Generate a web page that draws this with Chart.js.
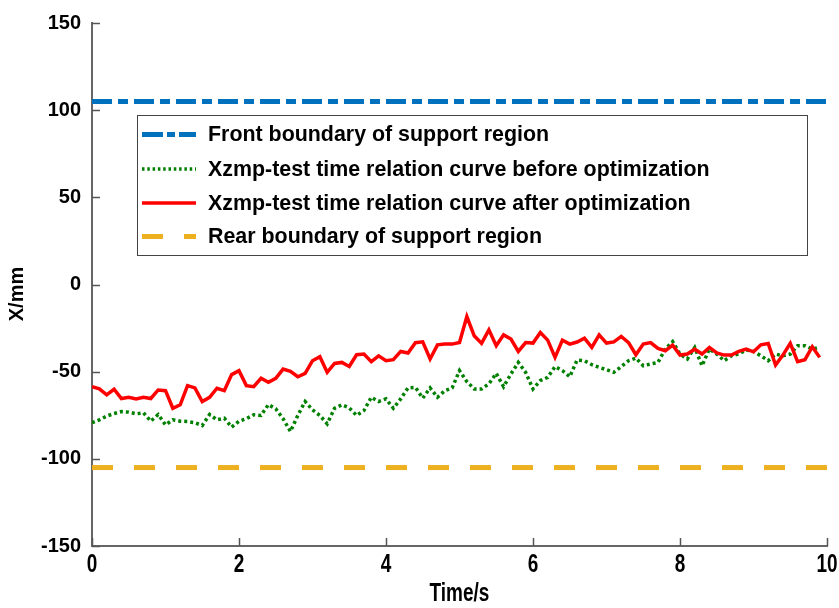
<!DOCTYPE html>
<html lang="en">
<head>
  <meta charset="UTF-8">
  <title>Xzmp - test time relation</title>
  <script src="https://cdn.jsdelivr.net/npm/chart.js"></script>
  <style>
    body { margin: 0; background: #fff; }
    #wrap { width: 839px; height: 608px; position: relative; }
  </style>
</head>
<body>
  <div id="wrap"><canvas id="zmpChart"></canvas></div>

  <script>
    // Data (one sample every 0.1 s)
    const times = [];
    for (let i = 0; i < 100; i++) times.push(Math.round(i * 10) / 100);

    const afterOpt = [
      -58.6, -59.9, -63.3, -60.1, -65.4, -64.7, -65.6, -64.7, -65.4, -60.5,
      -60.9, -71.0, -69.0, -58.0, -59.3, -67.1, -64.7, -59.5, -60.9, -51.7,
      -49.4, -58.0, -58.6, -53.8, -56.1, -53.8, -48.5, -49.8, -52.9, -51.0,
      -43.7, -41.4, -50.4, -45.3, -44.7, -47.0, -40.3, -39.9, -44.3, -40.9,
      -43.7, -43.1, -38.4, -39.3, -33.4, -32.9, -42.7, -34.6, -34.2, -34.2,
      -33.3, -18.4, -29.4, -33.8, -26.0, -35.1, -28.9, -31.3, -38.4, -33.3,
      -33.6, -27.5, -31.9, -41.8, -31.9, -34.2, -33.0, -30.8, -36.1, -28.9,
      -33.6, -32.9, -29.8, -33.3, -40.3, -34.2, -33.3, -36.7, -38.0, -34.8,
      -40.5, -39.9, -37.1, -39.9, -36.1, -39.3, -40.5, -40.5, -38.4, -37.1,
      -38.6, -34.6, -33.8, -46.2, -40.5, -33.8, -44.3, -43.1, -35.7, -41.8
    ];

    const beforeOpt = [
      -79.3, -77.6, -75.5, -74.0, -72.9, -73.2, -74.2, -73.6, -78.4, -74.6,
      -80.5, -77.6, -78.4, -78.6, -79.3, -80.9, -74.6, -77.6, -76.7, -81.8,
      -78.4, -77.0, -74.7, -75.1, -68.9, -71.3, -77.0, -84.3, -75.1, -67.1,
      -71.9, -75.1, -79.9, -71.0, -69.0, -70.8, -75.1, -72.3, -64.7, -67.1,
      -65.6, -71.0, -65.6, -59.3, -59.0, -65.2, -59.3, -64.7, -60.9, -59.3,
      -49.4, -55.7, -59.9, -59.9, -57.0, -51.0, -58.6, -51.3, -44.7, -50.4,
      -59.9, -55.1, -53.3, -47.1, -49.4, -52.9, -43.3, -43.7, -46.0, -47.5,
      -48.9, -50.4, -47.1, -43.7, -42.2, -46.6, -45.6, -44.7, -37.0, -32.7,
      -39.9, -42.7, -36.1, -46.6, -37.0, -39.9, -43.7, -40.9, -39.9, -37.6,
      -38.4, -40.9, -43.7, -39.9, -40.9, -39.9, -35.1, -35.1, -37.0, -36.1
    ];

    const boundaryTimes = [0, 10];
    const frontBoundary = [105, 105];
    const rearBoundary = [-105, -105];

    const yTicks = [-150, -100, -50, 0, 50, 100, 150];
    const xTicks = [0, 2, 4, 6, 8, 10];

    const legendLabels = [
      'Front boundary of support region',
      'Xzmp-test time relation curve before optimization',
      'Xzmp-test time relation curve after optimization',
      'Rear boundary of support region'
    ];

    const pts = (xs, ys) => ys.map((v, i) => ({ x: xs[i], y: v }));

    const sans = "'Liberation Sans', Arial, sans-serif";

    // inward tick marks, condensed x labels and axis titles
    const axisDecor = {
      id: 'axisDecor',
      afterDraw(chart) {
        const { ctx, chartArea: a, scales: { x, y } } = chart;
        ctx.save();
        ctx.strokeStyle = '#555';
        ctx.lineWidth = 1.5;
        yTicks.forEach(v => {
          const py = Math.round(y.getPixelForValue(v)) + 0.5;
          ctx.beginPath(); ctx.moveTo(a.left, py); ctx.lineTo(a.left + 8, py); ctx.stroke();
        });
        xTicks.forEach(v => {
          const px = Math.round(x.getPixelForValue(v)) + 0.5;
          ctx.beginPath(); ctx.moveTo(px, a.bottom); ctx.lineTo(px, a.bottom - 8); ctx.stroke();
        });

        // x labels look like a narrow bold face: squeeze them horizontally
        ctx.fillStyle = '#000';
        ctx.textAlign = 'center';
        ctx.textBaseline = 'middle';
        ctx.font = 'bold 25px ' + sans;
        const squeeze = 0.76;
        xTicks.forEach(v => {
          const px = x.getPixelForValue(v);
          ctx.save();
          ctx.translate(px, a.bottom + 19);
          ctx.scale(squeeze, 1);
          ctx.fillText(String(v), 0, 0);
          ctx.restore();
        });
        ctx.save();
        ctx.translate((a.left + a.right) / 2, a.bottom + 48);
        ctx.scale(squeeze, 1);
        ctx.fillText('Time/s', 0, 0);
        ctx.restore();

        ctx.save();
        ctx.font = 'bold 20px ' + sans;
        ctx.translate(17, 294);
        ctx.rotate(-Math.PI / 2);
        ctx.fillText('X/mm', 0, 0);
        ctx.restore();
        ctx.restore();
      }
    };

    // boxed legend inside the plot area
    const boxLegend = {
      id: 'boxLegend',
      afterDraw(chart) {
        const ctx = chart.ctx;
        const box = { x: 137, y: 115.5, w: 670, h: 140 };
        const rows = [134.5, 169, 203, 236.5];
        ctx.save();
        ctx.fillStyle = '#fff';
        ctx.fillRect(box.x, box.y, box.w, box.h);
        ctx.strokeStyle = '#444';
        ctx.lineWidth = 1;
        ctx.strokeRect(box.x + 0.5, box.y, box.w, box.h);
        legendLabels.forEach((label, r) => {
          const ds = chart.data.datasets.find(d => d.legendIndex === r);
          ctx.beginPath();
          ctx.strokeStyle = ds.borderColor;
          ctx.lineWidth = ds.borderWidth;
          ctx.setLineDash(ds.legendDash || ds.borderDash || []);
          ctx.moveTo(142, rows[r]);
          ctx.lineTo(196, rows[r]);
          ctx.stroke();
          ctx.setLineDash([]);
          ctx.fillStyle = '#000';
          ctx.font = 'bold 21.4px ' + sans;
          ctx.textBaseline = 'middle';
          ctx.textAlign = 'left';
          ctx.fillText(label, 208, rows[r] + 1);
        });
        ctx.restore();
      }
    };

    const ctx = document.getElementById('zmpChart').getContext('2d');
    const zmpChart = new Chart(ctx, {
      type: 'line',
      data: {
        datasets: [
          {
            label: legendLabels[0], legendIndex: 0,
            data: pts(boundaryTimes, frontBoundary),
            borderColor: '#0072BD', borderWidth: 5,
            borderDash: [20, 6, 10, 6], legendDash: [21, 4, 8, 4], order: 3
          },
          {
            label: legendLabels[2], legendIndex: 2,
            data: pts(times, afterOpt),
            borderColor: '#FF0000', borderWidth: 3.5, order: 1
          },
          {
            label: legendLabels[1], legendIndex: 1,
            data: pts(times, beforeOpt),
            borderColor: '#008000', borderWidth: 3.5,
            borderDash: [3, 3], legendDash: [2.5, 2.8], order: 2
          },
          {
            label: legendLabels[3], legendIndex: 3,
            data: pts(boundaryTimes, rearBoundary),
            borderColor: '#EDB120', borderWidth: 5,
            borderDash: [21, 21], order: 4
          }
        ]
      },
      options: {
        responsive: true,
        maintainAspectRatio: false,
        animation: false,
        layout: { padding: { left: 0, right: 12, top: 21, bottom: 0 } },
        elements: { point: { radius: 0 }, line: { tension: 0, borderCapStyle: 'butt' } },
        plugins: { legend: { display: false }, tooltip: { enabled: false } },
        scales: {
          x: {
            type: 'linear', min: 0, max: 10,
            afterBuildTicks: s => { s.ticks = xTicks.map(v => ({ value: v })); },
            afterFit: s => { s.height = 62; },
            grid: { display: false, drawTicks: false },
            border: { display: true, color: '#666', width: 2 },
            ticks: { display: false }
          },
          y: {
            min: -150, max: 150,
            afterBuildTicks: s => { s.ticks = yTicks.map(v => ({ value: v })); },
            afterFit: s => { s.width = 92; },
            grid: { display: false, drawTicks: false },
            border: { display: true, color: '#666', width: 2 },
            ticks: { color: '#000', padding: 11, font: { family: sans, size: 20, weight: 'bold' } }
          }
        }
      },
      plugins: [axisDecor, boxLegend]
    });
  </script>
</body>
</html>
